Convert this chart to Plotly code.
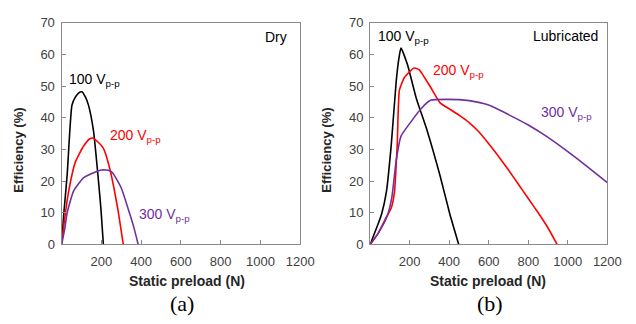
import plotly.graph_objects as go

# ---- data ----
dry_100_x = [0, 10, 28, 52, 69, 85, 102, 120, 135, 160, 184, 198, 210]
dry_100_y = [0, 9, 22, 44, 46.5, 47.8, 48.2, 46.5, 44, 36, 21, 11, 0]
dry_200_x = [0, 15, 36, 69, 110, 140, 156, 180, 209, 242, 283, 310]
dry_200_y = [0, 8, 17, 26, 31, 33.3, 33.6, 32.5, 30.5, 24, 11, 0]
dry_300_x = [0, 16, 28, 61, 110, 176, 200, 225, 242, 258, 299, 341, 365, 385]
dry_300_y = [0, 5, 10, 17, 21, 23, 23.5, 23.5, 23.3, 22.5, 18, 10, 5, 0]

lub_100_x = [0, 41, 58, 82, 107, 132, 146, 156, 189, 234, 288, 354, 403, 448]
lub_100_y = [0, 6.6, 9.6, 16.6, 31.7, 51.7, 59, 62, 56.7, 46, 36, 21.6, 9.6, 0]
lub_200_x = [0, 41, 82, 107, 123, 137, 148, 173, 222, 247, 305, 354, 403, 453,
             501, 551, 600, 650, 700, 750, 800, 850, 900, 946]
lub_200_y = [0, 3.6, 8.6, 11.6, 16.6, 31.7, 48.7, 52.7, 55.7, 55.2, 49.7, 44.7,
             42.7, 40.7, 38.5, 35.5, 31.8, 27.8, 23.5, 19, 14.5, 10, 5.2, 0]
lub_300_x = [0, 41, 87, 110, 132, 156, 206, 255, 305, 387, 501, 600, 700, 800,
             900, 1000, 1100, 1200]
lub_300_y = [0, 3.6, 9.1, 15, 26.6, 34.2, 38.7, 42.7, 45.5, 45.8, 45.4, 44, 41,
             37.7, 33.8, 29.3, 24.5, 19.5]

x_ticks = [200, 400, 600, 800, 1000, 1200]
y_ticks = [0, 10, 20, 30, 40, 50, 60, 70]
series_labels = ["100 V<sub>p-p</sub>", "200 V<sub>p-p</sub>", "300 V<sub>p-p</sub>"]
colors = ["#000000", "#FF0000", "#7030A0"]

W, H = 636, 324
def px(x):
    return x / W
def py(y):
    return 1 - y / H

fig = go.Figure()
panels = [
    ("x", "y", [(dry_100_x, dry_100_y), (dry_200_x, dry_200_y), (dry_300_x, dry_300_y)]),
    ("x2", "y2", [(lub_100_x, lub_100_y), (lub_200_x, lub_200_y), (lub_300_x, lub_300_y)]),
]
for xa, ya, series in panels:
    for (xs, ys), c, name in zip(series, colors, series_labels):
        fig.add_trace(go.Scatter(x=xs, y=ys, mode="lines", xaxis=xa, yaxis=ya,
                                 line=dict(color=c, width=1.6, shape="spline", smoothing=0.5),
                                 name=name, showlegend=False, hoverinfo="skip"))

sans = "Liberation Sans, Arial"
tick_font = dict(family=sans, size=13, color="#404040")
axis_common = dict(showline=True, mirror=True, linecolor="#8a8a8a", linewidth=1.3,
                   ticks="inside", ticklen=4, tickcolor="#8a8a8a", showgrid=False,
                   zeroline=False, tickfont=tick_font)

yd = [py(249), py(16.5)]
fig.update_layout(
    width=W, height=H, margin=dict(l=0, r=0, t=0, b=0),
    paper_bgcolor="white", plot_bgcolor="white",
    xaxis=dict(domain=[px(63), px(307)], range=[0, 1200], tickvals=x_ticks, anchor="y",
               ticklabelstandoff=5, **axis_common),
    yaxis=dict(domain=yd, range=[0, 70], tickvals=y_ticks, anchor="x",
               ticklabelstandoff=3, **axis_common),
    xaxis2=dict(domain=[px(378.5), px(621)], range=[0, 1200], tickvals=x_ticks, anchor="y2",
                ticklabelstandoff=5, **axis_common),
    yaxis2=dict(domain=yd, range=[0, 70], tickvals=y_ticks, anchor="x2",
                ticklabelstandoff=3, **axis_common),
)

# axis titles
for x in (191, 499):
    fig.add_annotation(x=px(x), y=py(287), xref="paper", yref="paper",
                       text="<b>Static preload (N)</b>", showarrow=False,
                       xanchor="center", yanchor="middle",
                       font=dict(family=sans, size=14, color="#262626"))
for x in (18, 333):
    fig.add_annotation(x=px(x), y=py(150), xref="paper", yref="paper",
                       text="<b>Efficiency (%)</b>", showarrow=False, textangle=-90,
                       xanchor="center", yanchor="middle",
                       font=dict(family=sans, size=13, color="#262626"))

anns = [
    (68, 77, series_labels[0], colors[0], "left"),
    (110, 135, series_labels[1], colors[1], "left"),
    (140, 218, series_labels[2], colors[2], "left"),
    (296, 31, "Dry", "#000000", "right"),
    (384, 31, series_labels[0], colors[0], "left"),
    (441, 67, series_labels[1], colors[1], "left"),
    (551, 111, series_labels[2], colors[2], "left"),
    (613, 30, "Lubricated", "#000000", "right"),
]
for x, y, t, c, xa in anns:
    fig.add_annotation(x=px(x), y=py(y), xref="paper", yref="paper", text=t,
                       showarrow=False, xanchor=xa, yanchor="middle",
                       font=dict(family=sans, size=14, color=c))

for x, t in [(186, "(a)"), (501, "(b)")]:
    fig.add_annotation(x=px(x), y=py(311), xref="paper", yref="paper", text=t,
                       showarrow=False, xanchor="center", yanchor="middle",
                       font=dict(family="Liberation Serif, Times New Roman", size=22, color="#000000"))

fig.write_html("out.html")
